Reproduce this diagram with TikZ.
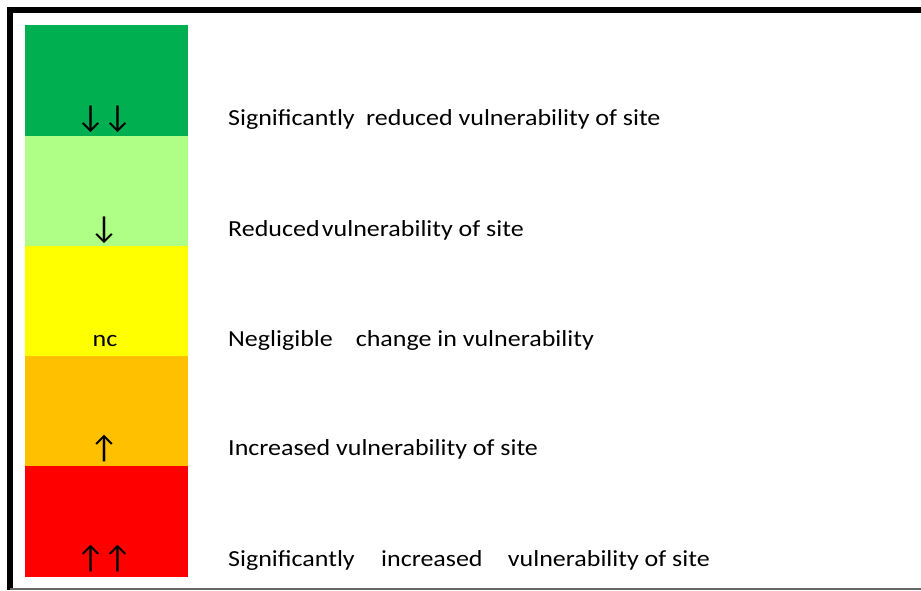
\documentclass[tikz,border=0pt]{standalone}
\usepackage{fontspec}
\setmainfont{Carlito}
\newfontfamily\widefont[FakeStretch=1.13]{Carlito}
\newfontfamily\arrowfont{Carlito}
\definecolor{kgreen}{HTML}{00B050}
\definecolor{klight}{HTML}{AFFF87}
\definecolor{kyellow}{HTML}{FFFF00}
\definecolor{korange}{HTML}{FFC000}
\definecolor{kred}{HTML}{FF0000}
\begin{document}
\begin{tikzpicture}[x=1pt,y=-1pt,
  band/.style={fill=#1,draw=none},
  symb/.style={anchor=base,font=\arrowfont\fontsize{32}{32}\selectfont,inner sep=0pt},
  word/.style={anchor=base,font=\widefont\fontsize{23}{23}\selectfont,inner sep=0pt},
  label/.style={anchor=base west,font=\widefont\fontsize{23}{23}\selectfont,inner sep=0pt}]
\useasboundingbox (0,0) rectangle (921,590);
\fill[white] (0,0) rectangle (921,590);
% frame
\draw[line width=6pt] (9.5,590) -- (9.5,10) -- (921,10);
\draw[line width=1.5pt,black!60] (9.5,589) -- (921,589);
% colour bands
\fill[band=kgreen]  (25,25)  rectangle (188,136);
\fill[band=klight]  (25,136) rectangle (188,246);
\fill[band=kyellow] (25,246) rectangle (188,356);
\fill[band=korange] (25,356) rectangle (188,466);
\fill[band=kred]    (25,466) rectangle (188,577);
% symbols
\node[symb] (s1) at (104,127) {↓\kern-2pt↓};
\node[symb] (s2) at (104,238) {↓};
\node[word] (s3) at (105,346) {nc};
\node[symb] (s4) at (104,458) {↑};
\node[symb] (s5) at (104,568) {↑\kern-2pt↑};
% descriptions
\node[label] (t1) at (228,125) {Significantly\hspace{0.5em}reduced vulnerability of site};
\node[label] (t2) at (228,236) {Reduced\hspace{0.1em}vulnerability of site};
\node[label] (t3) at (228,346) {Negligible\hspace{1em}change in vulnerability};
\node[label] (t4) at (228,455) {Increased vulnerability of site};
\node[label] (t5) at (228,566) {Significantly\hspace{1.15em}increased\hspace{1.1em}vulnerability of site};
\end{tikzpicture}
\end{document}
